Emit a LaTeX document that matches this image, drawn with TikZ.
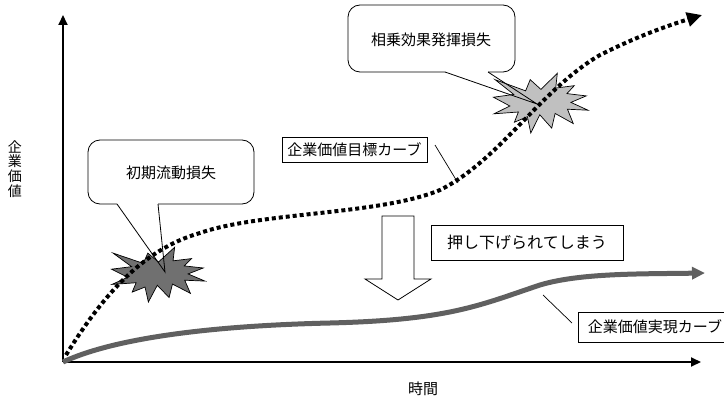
\documentclass[tikz,border=0pt]{standalone}
\usepackage{fontspec}
\setmainfont{Noto Sans CJK JP}
\usetikzlibrary{arrows.meta}
\definecolor{curvegray}{RGB}{96,96,96}
\definecolor{burstdark}{RGB}{112,112,112}
\definecolor{burstlight}{RGB}{192,192,192}
\begin{document}
\begin{tikzpicture}[x=1pt,y=-1pt,
  lbl/.style={font=\fontsize{15}{15}\selectfont, inner sep=0pt},
  tagbox/.style={draw=black, line width=0.8pt, fill=white, inner sep=0pt,
    font=\fontsize{15}{15}\selectfont},
  leader/.style={line width=0.7pt},
  calloutline/.style={line width=0.8pt},
  burst/.style={draw=black, line width=0.7pt, line join=miter},
  axis/.style={line width=2pt, -{Triangle[length=10pt,width=9pt]}}]
\useasboundingbox (0,0) rectangle (724,396);
\clip (0,0) rectangle (724,396);

% axes
\coordinate (O) at (63,362);
\coordinate (Ytip) at (63,15);
\coordinate (Xtip) at (701,362);
\draw[axis] (O) -- (Ytip);
\draw[axis] (O) -- (Xtip);
\node[lbl, font=\fontsize{14}{14.7}\selectfont, align=center] (ylab) at (15,169) {企\\業\\価\\値};
\node[lbl] (xlab) at (423,389) {時間};

% callout 1 background
\fill[white, rounded corners=12pt] (88,140) rectangle (254,204);
\fill[white] (117,203) -- (165,272) -- (158,203) -- cycle;
% callout 2 background
\fill[white, rounded corners=12pt] (348,5) rectangle (515,72);
\fill[white] (445,71) -- (537,104) -- (488,71) -- cycle;

% starburst 1
\begin{scope}[shift={(111,247)}, xscale=0.94, yscale=0.55]
\draw[burst, fill=burstdark] (50.47,27.34) -- (39.16,11.11) -- (34.34,29.75) -- (2.20,11.11)
 -- (21.91,35.75) -- (0.49,40.36) -- (17.72,55.0) -- (1.13,68.0) -- (26.72,65.0)
 -- (22.54,82.03) -- (36.20,72.82) -- (39.77,100) -- (49.25,69.62) -- (61.80,91.85)
 -- (65.39,67.41) -- (84.48,84.24) -- (78.42,60.39) -- (100,62.0) -- (81.99,48.98)
 -- (98.14,38.16) -- (77.81,34.34) -- (85.56,21.11) -- (66.0,25.13) -- (67.70,0.49) -- cycle;
\end{scope}
% starburst 2
\begin{scope}[shift={(493,73)}, xscale=0.95, yscale=0.60]
\draw[burst, fill=burstlight] (50.47,27.34) -- (39.16,11.11) -- (34.34,29.75) -- (2.20,11.11)
 -- (21.91,35.75) -- (0.49,40.36) -- (17.72,55.0) -- (1.13,68.0) -- (26.72,65.0)
 -- (22.54,82.03) -- (36.20,72.82) -- (39.77,100) -- (49.25,69.62) -- (61.80,91.85)
 -- (65.39,67.41) -- (84.48,84.24) -- (78.42,60.39) -- (100,62.0) -- (81.99,48.98)
 -- (98.14,38.16) -- (77.81,34.34) -- (85.56,21.11) -- (66.0,25.13) -- (67.70,0.49) -- cycle;
\end{scope}

% callout 1 outline
\coordinate (tip1) at (165,272);
\draw[calloutline, rounded corners=12pt] (117,204) -- (88,204) -- (88,140) -- (254,140) -- (254,204) -- (158,204);
\draw[calloutline, line join=miter] (117,204) -- (tip1) -- (158,204);
\node[lbl] (c1) at (171,173) {初期流動損失};
% callout 2 outline
\coordinate (tip2) at (537,104);
\draw[calloutline, rounded corners=12pt] (445,72) -- (348,72) -- (348,5) -- (515,5) -- (515,72) -- (488,72);
\draw[calloutline, line join=miter] (445,72) -- (tip2) -- (488,72);
\node[lbl] (c2) at (431,40) {相乗効果発揮損失};

% realised value curve (gray)
\draw[curvegray, line width=5pt, -{Triangle[length=13pt,width=12pt]}]
  (63,362) .. controls (110,340) and (200,326) .. (330,323)
  .. controls (450,320) and (480,305) .. (540,285)
  .. controls (580,273) and (640,274) .. (705,273);

% target value curve (dotted)
\draw[black, line width=4pt, dash pattern=on 4pt off 3pt, -{Triangle[length=15pt,width=14pt]}]
  (66,355) .. controls (100,300) and (140,250) .. (200,233)
  .. controls (260,212) and (380,215) .. (440,190)
  .. controls (500,160) and (540,90) .. (600,55)
  .. controls (640,35) and (670,25) .. (702,15);

% down block arrow
\draw[line width=0.8pt, fill=white, line join=miter] (382,216) -- (414,216) -- (414,279) -- (431,279)
  -- (398,300) -- (365,279) -- (382,279) -- cycle;

% labels
\node[tagbox, minimum width=145pt, minimum height=25pt] (target) at (354.5,149.5) {企業価値目標カーブ};
\coordinate (tgtA) at (435,145);
\coordinate (tgtB) at (458,183);
\draw[leader] (tgtA) -- (tgtB);

\node[tagbox, minimum width=192pt, minimum height=35pt, line width=1pt,
  font=\fontsize{16}{16}\selectfont] (push) at (527,242.5) {押し下げられてしまう};

\node[tagbox, minimum width=154pt, minimum height=30pt] (real) at (655,327) {企業価値実現カーブ};
\coordinate (realA) at (543,295);
\coordinate (realB) at (572,323);
\draw[leader] (realA) -- (realB);
\end{tikzpicture}
\end{document}
